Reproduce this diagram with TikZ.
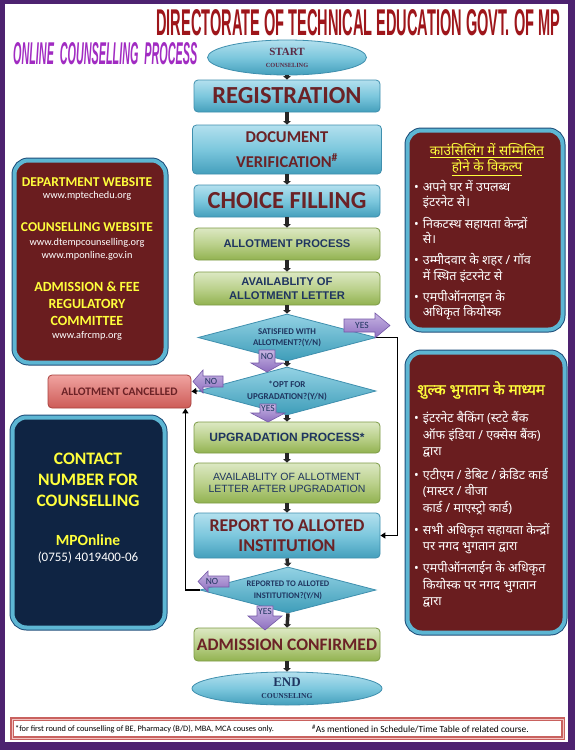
\documentclass[tikz,border=0pt]{standalone}
\usepackage{fontspec}
\usepackage{graphicx}
\setmainfont{Carlito}
\newfontfamily\hindi[Script=Devanagari]{Noto Sans}
\newfontfamily\hindib[Script=Devanagari,FakeBold=1.5]{Noto Sans}
\newfontfamily\serifb{Liberation Serif}
\newfontfamily\arialf{Liberation Sans}
\usetikzlibrary{shapes.geometric,arrows.meta}
\definecolor{framepurple}{HTML}{4D2270}
\definecolor{titlered}{HTML}{9E161B}
\definecolor{onlinepurple}{HTML}{A12BC2}
\definecolor{bluetop}{HTML}{B3E0EE}
\definecolor{bluemid}{HTML}{7CC7DD}
\definecolor{bluebot}{HTML}{449FBC}
\definecolor{bluebd}{HTML}{3F8FAE}
\definecolor{greentop}{HTML}{DCE8C3}
\definecolor{greenmid}{HTML}{BBD18C}
\definecolor{greenbot}{HTML}{92B250}
\definecolor{greenbd}{HTML}{7D9B46}
\definecolor{redtop}{HTML}{F0A3A0}
\definecolor{redbot}{HTML}{CD5B57}
\definecolor{redbd}{HTML}{A9413E}
\definecolor{boxtxt}{HTML}{6B2226}
\definecolor{navytxt}{HTML}{1F3560}
\definecolor{brownbox}{HTML}{6A1D1F}
\definecolor{navybox}{HTML}{0F2443}
\definecolor{rimlight}{HTML}{5DB6D3}
\definecolor{rimdark}{HTML}{1E4E7A}
\definecolor{infoyellow}{HTML}{FFFF3C}
\definecolor{purpletop}{HTML}{C7B5E3}
\definecolor{purplebot}{HTML}{8D6EBF}
\definecolor{purplebd}{HTML}{7558A8}
\definecolor{diatop}{HTML}{93D2E4}
\definecolor{diabot}{HTML}{3E9DB9}
\definecolor{footred}{HTML}{C9625F}
\definecolor{footlight}{HTML}{F2C4C2}
\definecolor{startbrown}{HTML}{5A2A45}
\tikzset{
 flowbox/.style={rounded corners=4pt, line width=0.8pt, inner sep=0pt, align=center, minimum width=186pt},
 bluebox/.style={flowbox, draw=bluebd, top color=bluetop, bottom color=bluebot, middle color=bluemid, text=boxtxt},
 greenbox/.style={flowbox, draw=greenbd, top color=greentop, bottom color=greenbot, middle color=greenmid, text=navytxt},
 redbox/.style={flowbox, draw=redbd, top color=redtop, bottom color=redbot, text=boxtxt},
 decision/.style={diamond, aspect=3.75, draw=bluebd, line width=0.8pt, top color=diatop, bottom color=diabot, inner sep=0pt, align=center, text=navytxt},
 terminal/.style={ellipse, draw=bluebd, line width=0.8pt, top color=bluetop, bottom color=bluebot, middle color=bluemid, inner sep=0pt, align=center},
 flow/.style={line width=3.5pt, draw=black!85, -{Triangle[width=7.5pt,length=3.5pt]}},
 conn/.style={line width=1.3pt, -{Triangle[width=6pt,length=5pt]}},
 parrow/.style={draw=purplebd, line width=0.6pt, top color=purpletop, bottom color=purplebot},
 plabel/.style={text=navytxt, font=\fontsize{9.5}{10}\selectfont, inner sep=0pt},
 infobox/.style={rounded corners=14pt, preaction={draw=rimdark, line width=6pt}, draw=rimlight, line width=4pt, inner sep=0pt},
 infohead/.style={text=infoyellow, inner sep=0pt, align=center, font=\fontsize{13.5}{16}\selectfont\bfseries},
 infourl/.style={text=white, inner sep=0pt, align=center, font=\fontsize{10.3}{13.5}\selectfont},
}
\begin{document}
\begin{tikzpicture}[x=1pt,y=-1pt]
\useasboundingbox (0,0) rectangle (575,750);
\fill[framepurple] (0,0) rectangle (575,750);
\fill[white] (5,4) rectangle (568,742);

% titles
\node[anchor=north west, inner sep=0pt, text=titlered] (title) at (156,9)
  {\resizebox{404pt}{26pt}{\arialf\bfseries DIRECTORATE OF TECHNICAL EDUCATION GOVT. OF MP}};
\node[anchor=north west, inner sep=0pt, text=onlinepurple] (online) at (13,42)
  {\resizebox{184pt}{22pt}{\arialf\bfseries\itshape ONLINE\ \ COUNSELLING\ \ PROCESS}};

% info boxes
\node[infobox, fill=brownbox, minimum width=151pt, minimum height=202pt] (web) at (90,261.5) {};
\node[infobox, fill=navybox, minimum width=152pt, minimum height=210pt] (contact) at (88.5,522.5) {};
\node[infobox, fill=brownbox, minimum width=155pt, minimum height=199pt] (opt) at (485,230) {};
\node[infobox, fill=brownbox, minimum width=157pt, minimum height=280pt] (fee) at (486,492.5) {};

% website box text
\node[infohead] (dw) at (87,182) {DEPARTMENT WEBSITE};
\node[infourl] (dwu) at (87,196) {www.mptechedu.org};
\node[infohead] (cw) at (87,227) {COUNSELLING WEBSITE};
\node[infourl] (cwu) at (87,249.5) {www.dtempcounselling.org\\www.mponline.gov.in};
\node[infohead, font=\fontsize{14}{17}\selectfont\bfseries] (afr) at (87,303.5) {ADMISSION \& FEE\\REGULATORY\\COMMITTEE};
\node[infourl] (afu) at (87,335.5) {www.afrcmp.org};

% contact box text
\node[infohead, font=\fontsize{17.5}{21}\selectfont\bfseries] (cn) at (88,479.5) {CONTACT\\NUMBER FOR\\COUNSELLING};
\node[infohead, font=\fontsize{15.5}{18}\selectfont\bfseries] (mpo) at (88,540) {MPOnline};
\node[infourl, font=\fontsize{13}{15}\selectfont] (ph) at (88,557.5) {(0755) 4019400-06};

% right box 1
\node[text=infoyellow, inner sep=0pt, align=center, font=\hindi\fontsize{13.5}{16}\selectfont] (optt) at (487,159.5)
  {\underline{काउंसिलिंग में सम्मिलित}\\\underline{होने के विकल्प}};
\node[anchor=north west, inner sep=0pt, text=white, font=\hindi\fontsize{12.5}{13.8}\selectfont] (optb) at (414,180)
 {\begin{tabular}{@{}l@{\hspace{4pt}}l@{}}
 \textbullet & अपने घर में उपलब्ध\\
  & इंटरनेट से।\\[6pt]
 \textbullet & निकटस्थ सहायता केन्द्रों\\
  & से।\\[6pt]
 \textbullet & उम्मीदवार के शहर / गॉव\\
  & में स्थित इंटरनेट से\\[6pt]
 \textbullet & एमपीऑनलाइन के\\
  & अधिकृत कियोस्क
 \end{tabular}};

% right box 2
\node[text=infoyellow, inner sep=0pt, font=\hindib\fontsize{15}{16}\selectfont] (feet) at (481,390) {शुल्क भुगतान के माध्यम};
\node[anchor=north west, inner sep=0pt, text=white, font=\hindi\fontsize{12.5}{16.5}\selectfont] (feeb) at (414,411)
 {\begin{tabular}{@{}l@{\hspace{4pt}}l@{}}
 \textbullet & इंटरनेट बैकिंग (स्टटे बैंक\\
  & ऑफ इंडिया / एक्सेस बैंक)\\
  & द्वारा\\[7pt]
 \textbullet & एटीएम / डेबिट / क्रेडिट कार्ड\\
  & (मास्टर / वीजा\\
  & कार्ड / माएस्ट्रो कार्ड)\\[5.5pt]
 \textbullet & सभी अधिकृत सहायता केन्द्रों\\
  & पर नगद भुगतान द्वारा\\[5.5pt]
 \textbullet & एमपीऑनलाईन के अधिकृत\\
  & कियोस्क पर नगद भुगतान\\
  & द्वारा
 \end{tabular}};

% flow chart
\node[terminal, minimum width=159pt, minimum height=35pt, text=startbrown] (start) at (287,57.5)
  {\serifb\bfseries\fontsize{11}{13}\selectfont START\\\serifb\bfseries\fontsize{6.3}{7}\selectfont COUNSELING};
\node[bluebox, minimum height=32pt, font=\fontsize{24.5}{26}\selectfont\bfseries] (reg) at (287,96) {REGISTRATION};
\node[bluebox, minimum width=189pt, minimum height=49pt, font=\fontsize{16.5}{25}\selectfont\bfseries] (doc) at (287,149.5) {DOCUMENT\\VERIFICATION\textsuperscript{\#}};
\node[bluebox, minimum height=32pt, font=\fontsize{24.5}{26}\selectfont\bfseries] (choice) at (287,201) {CHOICE FILLING};
\node[greenbox, minimum height=32pt, font=\arialf\bfseries\fontsize{11.2}{13}\selectfont] (allot) at (287,244) {ALLOTMENT PROCESS};
\node[greenbox, minimum height=33pt, font=\arialf\bfseries\fontsize{11.2}{14}\selectfont] (avail) at (287,288.5) {AVAILABLITY OF\\ALLOTMENT LETTER};
\node[decision, minimum width=178pt, minimum height=47pt, font=\fontsize{8.8}{10.7}\selectfont\bfseries] (d1) at (287,337.5) {SATISFIED WITH\\ALLOTMENT?(Y/N)};
\node[decision, minimum width=178pt, minimum height=48pt, font=\fontsize{9}{11.5}\selectfont\bfseries] (d2) at (287,391) {*OPT FOR\\UPGRADATION?(Y/N)};
\node[redbox, minimum width=143pt, minimum height=33pt, font=\fontsize{11.5}{13}\selectfont\bfseries] (cancel) at (119.5,391.5) {ALLOTMENT CANCELLED};
\node[greenbox, minimum height=31pt, font=\arialf\bfseries\fontsize{12}{14}\selectfont] (upg) at (287,437.5) {UPGRADATION PROCESS*};
\node[greenbox, minimum height=40pt, font=\arialf\fontsize{10.5}{12.5}\selectfont] (avail2) at (287,483) {AVAILABLITY OF ALLOTMENT\\LETTER AFTER UPGRADATION};
\node[bluebox, minimum height=45pt, font=\fontsize{18}{20}\selectfont\bfseries] (report) at (287,535.5) {REPORT TO ALLOTED\\INSTITUTION};
\node[decision, minimum width=176pt, minimum height=46pt, font=\fontsize{8.5}{12}\selectfont\bfseries] (d3) at (288,590) {REPORTED TO ALLOTED\\INSTITUTION?(Y/N)};
\node[greenbox, minimum height=33pt, text=boxtxt, font=\fontsize{17.5}{20}\selectfont\bfseries] (admit) at (287,644.5) {ADMISSION CONFIRMED};
\node[terminal, minimum width=190pt, minimum height=33pt, text=navytxt] (end) at (287,688.5)
  {\serifb\bfseries\fontsize{13}{12}\selectfont END\\\serifb\bfseries\fontsize{7.6}{8}\selectfont COUNSELING};

% short flow arrows
\foreach \a/\b in {start/reg, reg/doc, doc/choice, choice/allot, allot/avail, avail/d1, d1/d2, d2/upg, upg/avail2, avail2/report, report/d3, d3/admit, admit/end}
  \draw[flow] (\a.south) -- (\b.north);

% long connectors
\draw[conn] (d1.east) -- ++(21,0) |- (report.east);
\draw[conn] (d3.west) -| ([xshift=-6pt]cancel.south east);
\draw[conn] (d2.west) -- (cancel.east);

% purple label arrows
\path[parrow] (344,319) -- (375,319) -- (375,313) -- (390,325.5) -- (375,338) -- (375,332) -- (344,332) -- cycle;
\node[plabel] (yes1) at (362,325.5) {YES};
\path[parrow] (259,350) -- (275,350) -- (275,363) -- (283,363) -- (267,372) -- (251,363) -- (259,363) -- cycle;
\node[plabel] (no1) at (267,356.5) {NO};
\path[parrow] (223,376) -- (203,376) -- (203,370) -- (193,381.5) -- (203,393) -- (203,387) -- (223,387) -- cycle;
\node[plabel] (no2) at (211,381.5) {NO};
\path[parrow] (260,404) -- (276,404) -- (276,413) -- (285,413) -- (268,422) -- (251,413) -- (260,413) -- cycle;
\node[plabel] (yes2) at (268,408.5) {YES};
\path[parrow] (229,576) -- (208,576) -- (208,571) -- (198,581.5) -- (208,592) -- (208,587) -- (229,587) -- cycle;
\node[plabel] (no3) at (212,581.5) {NO};
\path[parrow] (257,606) -- (273,606) -- (273,616) -- (282,616) -- (265,630) -- (248,616) -- (257,616) -- cycle;
\node[plabel] (yes3) at (265,611) {YES};

% footer
\node[draw=footred, double=footlight, double distance=0.8pt, line width=1.2pt, fill=white, minimum width=551pt, minimum height=19pt, inner sep=0pt] (foot) at (287.5,728.5) {};
\node[anchor=west, inner sep=0pt, font=\fontsize{8.3}{10}\selectfont] (fn1) at (15,729) {*for first round of counselling of BE, Pharmacy (B/D), MBA, MCA couses only.};
\node[anchor=west, inner sep=0pt, font=\fontsize{9.4}{10}\selectfont] (fn2) at (312,729) {\textsuperscript{\#}As mentioned in Schedule/Time Table of related course.};
\end{tikzpicture}
\end{document}
